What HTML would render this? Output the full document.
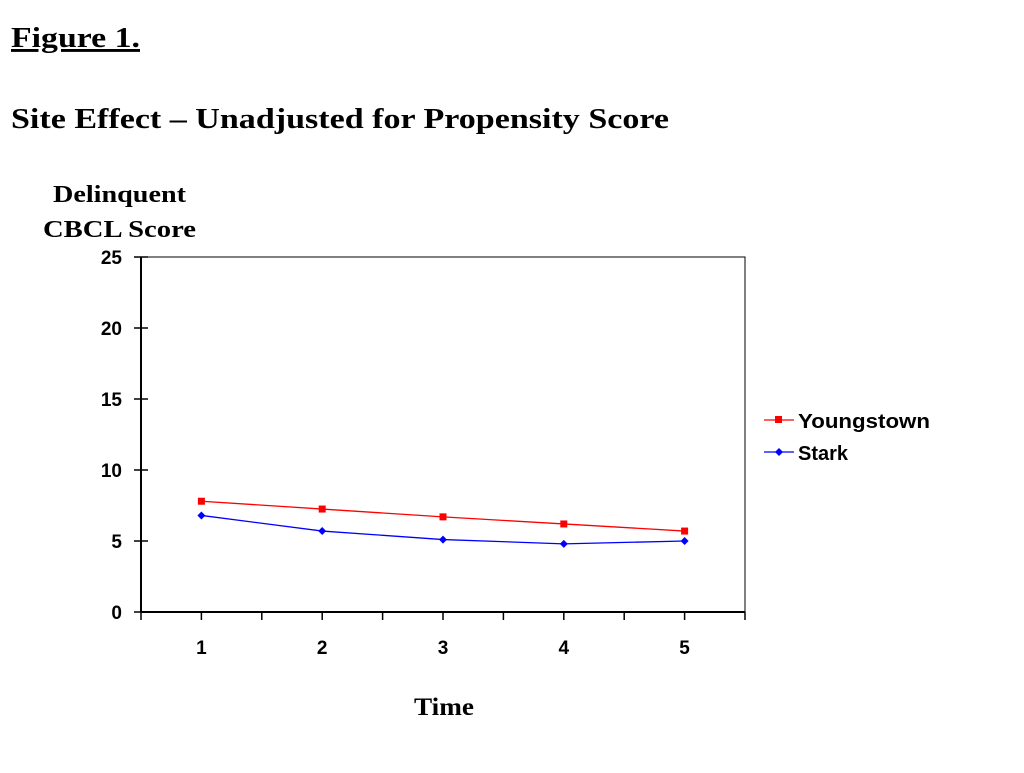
<!DOCTYPE html>
<html><head><meta charset="utf-8"><style>
body{margin:0;background:#fff;width:1024px;height:768px;overflow:hidden;}
svg text{font-family:"Liberation Sans",sans-serif;}
.serif{font-family:"Liberation Serif",serif;font-weight:bold;}
</style></head><body>
<svg width="1024" height="768">
<text x="11" y="47" class="serif" font-size="29" textLength="129" lengthAdjust="spacingAndGlyphs" text-decoration="underline">Figure 1.</text>
<text x="11" y="128" class="serif" font-size="29" textLength="658" lengthAdjust="spacingAndGlyphs">Site Effect – Unadjusted for Propensity Score</text>
<text x="53" y="202" class="serif" font-size="24" textLength="133" lengthAdjust="spacingAndGlyphs">Delinquent</text>
<text x="43" y="237" class="serif" font-size="24" textLength="153" lengthAdjust="spacingAndGlyphs">CBCL Score</text>
<text x="414" y="715" class="serif" font-size="25" textLength="60" lengthAdjust="spacingAndGlyphs">Time</text>
<g id="plot"></g>
<g>
<line x1="764" y1="420" x2="794" y2="420" stroke="#f00" stroke-width="1.2"/>
<rect x="775" y="416" width="7" height="7" fill="#f00"/>
<text x="798" y="428" font-size="20" font-weight="bold" textLength="132" lengthAdjust="spacingAndGlyphs">Youngstown</text>
<line x1="764" y1="452" x2="794" y2="452" stroke="#00f" stroke-width="1.2"/>
<polygon points="779,448 783,452 779,456 775,452" fill="#00f"/>
<text x="798" y="460" font-size="20" font-weight="bold">Stark</text>
</g>
</svg>
<script>
const categories=["1","2","3","4","5"];
const youngstown=[7.8,7.25,6.7,6.2,5.7];
const stark=[6.8,5.7,5.1,4.8,5.0];
const yTicks=[0,5,10,15,20,25];
const L=141,R=745,T=257,B=612,yMax=25;
const step=(R-L)/categories.length;
const xs=i=>L+step*(i+0.5);
const ys=v=>B-(v/yMax)*(B-T);
const NS="http://www.w3.org/2000/svg";
const g=document.getElementById('plot');
function mk(tag,a,p){const e=document.createElementNS(NS,tag);for(const k in a)e.setAttribute(k,a[k]);(p||g).appendChild(e);return e;}
let f=mk('rect',{x:L,y:T,width:R-L,height:B-T,fill:'none',stroke:'#000','stroke-width':1});


let ya=mk('line',{x1:L,y1:T,x2:L,y2:B,stroke:'#000','stroke-width':2});


let xa=mk('line',{x1:L,y1:B,x2:R,y2:B,stroke:'#000','stroke-width':2});


yTicks.forEach(v=>{
 const y=ys(v);
 mk('line',{x1:L-7,y1:y,x2:L+7,y2:y,stroke:'#000','stroke-width':1.5});
 const t=mk('text',{x:L-19,y:y+7,'font-size':19,'font-weight':'bold','text-anchor':'end'});
 t.textContent=v;
 
 
});
for(let i=0;i<=categories.length*2;i++){
 const x=L+step*i/2;
 mk('line',{x1:x,y1:B,x2:x,y2:B+8,stroke:'#000','stroke-width':1.5});
}
categories.forEach((c,i)=>{
 const t=mk('text',{x:xs(i),y:654,'font-size':19,'font-weight':'bold','text-anchor':'middle'});
 t.textContent=c;
 
 
});
function series(vals,color,name,marker){
 const pl=mk('polyline',{points:vals.map((v,i)=>xs(i)+','+ys(v)).join(' '),fill:'none',stroke:color,'stroke-width':1.3});
 
 
 vals.forEach((v,i)=>{
  const x=xs(i),y=ys(v);let m;
  if(marker==='sq')m=mk('rect',{x:x-3.5,y:y-3.5,width:7,height:7,fill:color});
  else m=mk('polygon',{points:`${x},${y-4} ${x+4},${y} ${x},${y+4} ${x-4},${y}`,fill:color});
  
  
 });
}
series(youngstown,'#f00','youngstown','sq');
series(stark,'#00f','stark','dia');
</script>
</body></html>
